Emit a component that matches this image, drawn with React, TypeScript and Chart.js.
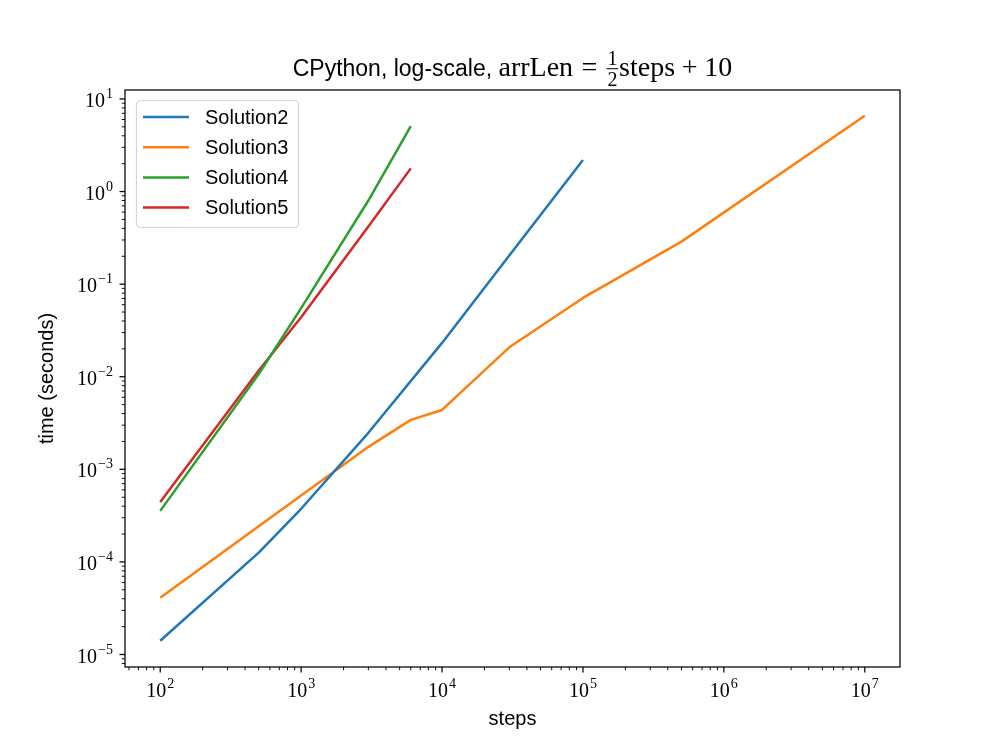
import React, { useEffect, useRef } from "react";
import { Chart, registerables } from "chart.js";

Chart.register(...registerables);

// ---- data ----
const seriesLabels = ["Solution2", "Solution3", "Solution4", "Solution5"];
const seriesColors = ["#1f77b4", "#ff7f0e", "#2ca02c", "#d62728"];

const solution2Steps = [100, 500, 1000, 3000, 10000, 30000, 100000];
const solution2Times = [1.41e-5, 1.26e-4, 3.75e-4, 2.48e-3, 0.0232, 0.204, 2.19];

const solution3Steps = [100, 500, 1000, 3000, 6000, 10000, 30000, 100000, 500000, 10000000];
const solution3Times = [4.1e-5, 2.43e-4, 5.22e-4, 1.75e-3, 3.42e-3, 4.38e-3, 0.0208, 0.071, 0.288, 6.59];

const solution4Steps = [100, 500, 1000, 3000, 6000];
const solution4Times = [3.56e-4, 0.0107, 0.055, 0.8, 5.1];

const solution5Steps = [100, 500, 1000, 3000, 6000];
const solution5Times = [4.45e-4, 0.0117, 0.044, 0.42, 1.78];

const xTickValues = [1e2, 1e3, 1e4, 1e5, 1e6, 1e7];
const yTickValues = [1e-5, 1e-4, 1e-3, 1e-2, 1e-1, 1e0, 1e1];

const xMin = 56.23;
const xMax = 1.778e7;
const yMin = 7.33e-6;
const yMax = 12.5;

const titleSans = "CPython, log-scale, ";
const titleMathLeft = "arrLen";
const titleMathEq = "=";
const titleFracNum = "1";
const titleFracDen = "2";
const titleMathRight = "steps";
const titleMathPlus = "+";
const titleMathTail = "10";
const xAxisTitle = "steps";
const yAxisTitle = "time (seconds)";

const SANS = '"Liberation Sans", "DejaVu Sans", sans-serif';
const SERIF = '"Liberation Serif", "DejaVu Serif", serif';

const toPts = (xs: number[], ys: number[]) => xs.map((x, i) => ({ x, y: ys[i] }));
const expOf = (v: number) => String(Math.round(Math.log10(v))).replace("-", "\u2212");

const decorPlugin = {
  id: "decor",
  afterDraw(chart: any) {
    const ctx = chart.ctx as CanvasRenderingContext2D;
    const { left, right, top, bottom } = chart.chartArea;
    const xs = chart.scales.x;
    const ys = chart.scales.y;
    ctx.save();

    // frame
    ctx.strokeStyle = "#000";
    ctx.lineWidth = 1.25;
    ctx.strokeRect(left, top, right - left, bottom - top);

    // ticks
    const drawTick = (scale: any, v: number, len: number, w: number, isX: boolean) => {
      const p = scale.getPixelForValue(v);
      ctx.lineWidth = w;
      ctx.beginPath();
      if (isX) {
        ctx.moveTo(p, bottom);
        ctx.lineTo(p, bottom + len);
      } else {
        ctx.moveTo(left, p);
        ctx.lineTo(left - len, p);
      }
      ctx.stroke();
    };
    for (let e = 1; e <= 7; e++) {
      for (let m = 1; m <= 9; m++) {
        const v = m * Math.pow(10, e);
        if (v < xMin || v > xMax) continue;
        if (m === 1) drawTick(xs, v, 5.5, 1.25, true);
        else drawTick(xs, v, 3.2, 0.95, true);
      }
    }
    for (let e = -6; e <= 1; e++) {
      for (let m = 1; m <= 9; m++) {
        const v = m * Math.pow(10, e);
        if (v < yMin || v > yMax) continue;
        if (m === 1) drawTick(ys, v, 5.5, 1.25, false);
        else drawTick(ys, v, 3.2, 0.95, false);
      }
    }

    // tick labels: 10 with superscript exponent
    ctx.fillStyle = "#000";
    ctx.textBaseline = "alphabetic";
    ctx.textAlign = "left";
    const baseFont = `20px ${SERIF}`;
    const expFont = `14px ${SERIF}`;
    const labelWidths = (v: number) => {
      ctx.font = baseFont;
      const w10 = ctx.measureText("10").width;
      ctx.font = expFont;
      const we = ctx.measureText(expOf(v)).width;
      return [w10, we];
    };
    xTickValues.forEach((v) => {
      const p = xs.getPixelForValue(v);
      const [w10, we] = labelWidths(v);
      const x0 = p - (w10 + we + 1) / 2;
      ctx.font = baseFont;
      ctx.fillText("10", x0, 697);
      ctx.font = expFont;
      ctx.fillText(expOf(v), x0 + w10 + 1, 688);
    });
    yTickValues.forEach((v) => {
      const p = ys.getPixelForValue(v);
      const [w10, we] = labelWidths(v);
      const xr = 113;
      const x0 = xr - (w10 + we + 1);
      ctx.font = baseFont;
      ctx.fillText("10", x0, p + 8);
      ctx.font = expFont;
      ctx.fillText(expOf(v), x0 + w10 + 1, p - 1);
    });

    // title
    const sansFont = `23px ${SANS}`;
    const fs = 28;
    const serifFont = `${fs}px ${SERIF}`;
    const smallFont = `${Math.round(fs * 0.7)}px ${SERIF}`;
    ctx.font = sansFont;
    const wSans = ctx.measureText(titleSans).width;
    ctx.font = serifFont;
    const wLeft = ctx.measureText(titleMathLeft).width;
    const wEq = ctx.measureText(titleMathEq).width;
    const wRight = ctx.measureText(titleMathRight).width;
    const wPlus = ctx.measureText(titleMathPlus).width;
    const wTail = ctx.measureText(titleMathTail).width;
    ctx.font = smallFont;
    const wFracInner = Math.max(ctx.measureText(titleFracNum).width, ctx.measureText(titleFracDen).width);
    const thick = 0.3 * fs;
    const med = 0.24 * fs;
    const nd = 0.06 * fs;
    const wFrac = wFracInner + 2 * nd;
    const total = wSans + wLeft + thick + wEq + thick + wFrac + wRight + med + wPlus + med + wTail;
    const cx = (left + right) / 2;
    const base = 76;
    let x = cx - total / 2;
    ctx.textAlign = "left";
    ctx.font = sansFont;
    ctx.fillText(titleSans, x, base);
    x += wSans;
    ctx.font = serifFont;
    ctx.fillText(titleMathLeft, x, base);
    x += wLeft + thick;
    ctx.fillText(titleMathEq, x, base);
    x += wEq + thick;
    ctx.font = smallFont;
    ctx.textAlign = "center";
    const fcx = x + wFrac / 2;
    ctx.fillText(titleFracNum, fcx, base - 0.38 * fs);
    ctx.fillText(titleFracDen, fcx, base + 0.34 * fs);
    ctx.fillRect(x + nd * 0.5, base - 0.26 * fs - 0.5, wFrac - nd, 1);
    ctx.textAlign = "left";
    x += wFrac;
    ctx.font = serifFont;
    ctx.fillText(titleMathRight, x, base);
    x += wRight + med;
    ctx.fillText(titleMathPlus, x, base);
    x += wPlus + med;
    ctx.fillText(titleMathTail, x, base);

    // axis titles
    ctx.font = `20px ${SANS}`;
    ctx.textAlign = "center";
    ctx.textBaseline = "middle";
    ctx.fillText(xAxisTitle, cx, 719);
    ctx.save();
    ctx.translate(47, (top + bottom) / 2);
    ctx.rotate(-Math.PI / 2);
    ctx.fillText(yAxisTitle, 0, 0);
    ctx.restore();

    // legend
    const bx = 136.5, by = 100.5, bw = 162, bh = 127, r = 4;
    ctx.beginPath();
    ctx.moveTo(bx + r, by);
    ctx.lineTo(bx + bw - r, by);
    ctx.arcTo(bx + bw, by, bx + bw, by + r, r);
    ctx.lineTo(bx + bw, by + bh - r);
    ctx.arcTo(bx + bw, by + bh, bx + bw - r, by + bh, r);
    ctx.lineTo(bx + r, by + bh);
    ctx.arcTo(bx, by + bh, bx, by + bh - r, r);
    ctx.lineTo(bx, by + r);
    ctx.arcTo(bx, by, bx + r, by, r);
    ctx.closePath();
    ctx.fillStyle = "rgba(255,255,255,0.8)";
    ctx.fill();
    ctx.strokeStyle = "#d5d5d5";
    ctx.lineWidth = 1.2;
    ctx.stroke();
    ctx.font = `20px ${SANS}`;
    ctx.textAlign = "left";
    ctx.textBaseline = "middle";
    chart.data.datasets.forEach((ds: any, i: number) => {
      const yy = 117 + i * 30.2;
      ctx.strokeStyle = ds.borderColor;
      ctx.lineWidth = 2.5;
      ctx.beginPath();
      ctx.moveTo(143, yy);
      ctx.lineTo(189, yy);
      ctx.stroke();
      ctx.fillStyle = "#000";
      ctx.fillText(ds.label, 205, yy + 1);
    });

    ctx.restore();
  },
};

export default function App() {
  const canvasRef = useRef<HTMLCanvasElement | null>(null);

  useEffect(() => {
    if (!canvasRef.current) return;
    const allSteps = [solution2Steps, solution3Steps, solution4Steps, solution5Steps];
    const allTimes = [solution2Times, solution3Times, solution4Times, solution5Times];
    const chart = new Chart(canvasRef.current, {
      type: "line",
      data: {
        datasets: seriesLabels.map((label, i) => ({
          label,
          data: toPts(allSteps[i], allTimes[i]),
          borderColor: seriesColors[i],
          backgroundColor: seriesColors[i],
          borderWidth: 2.5,
          pointRadius: 0,
          tension: 0,
          fill: false,
          borderJoinStyle: "round" as const,
        })),
      },
      options: {
        responsive: false,
        animation: false,
        events: [],
        layout: { padding: { left: 0, right: 100, top: 90, bottom: 0 } },
        plugins: {
          legend: { display: false },
          title: { display: false },
          tooltip: { enabled: false },
        },
        scales: {
          x: {
            type: "logarithmic",
            min: xMin,
            max: xMax,
            grid: { display: false, drawTicks: false },
            border: { display: false },
            ticks: { display: false },
            afterBuildTicks: (s: any) => {
              s.ticks = xTickValues.map((v) => ({ value: v, major: true }));
            },
            afterFit: (s: any) => {
              s.height = 83;
            },
          },
          y: {
            type: "logarithmic",
            min: yMin,
            max: yMax,
            grid: { display: false, drawTicks: false },
            border: { display: false },
            ticks: { display: false },
            afterBuildTicks: (s: any) => {
              s.ticks = yTickValues.map((v) => ({ value: v, major: true }));
            },
            afterFit: (s: any) => {
              s.width = 125;
            },
          },
        },
      },
      plugins: [decorPlugin],
    });
    return () => chart.destroy();
  }, []);

  return (
    <div style={{ position: "absolute", left: 0, top: 0, width: 1000, height: 750, background: "#fff" }}>
      <canvas ref={canvasRef} width={1000} height={750} style={{ display: "block" }} />
    </div>
  );
}
